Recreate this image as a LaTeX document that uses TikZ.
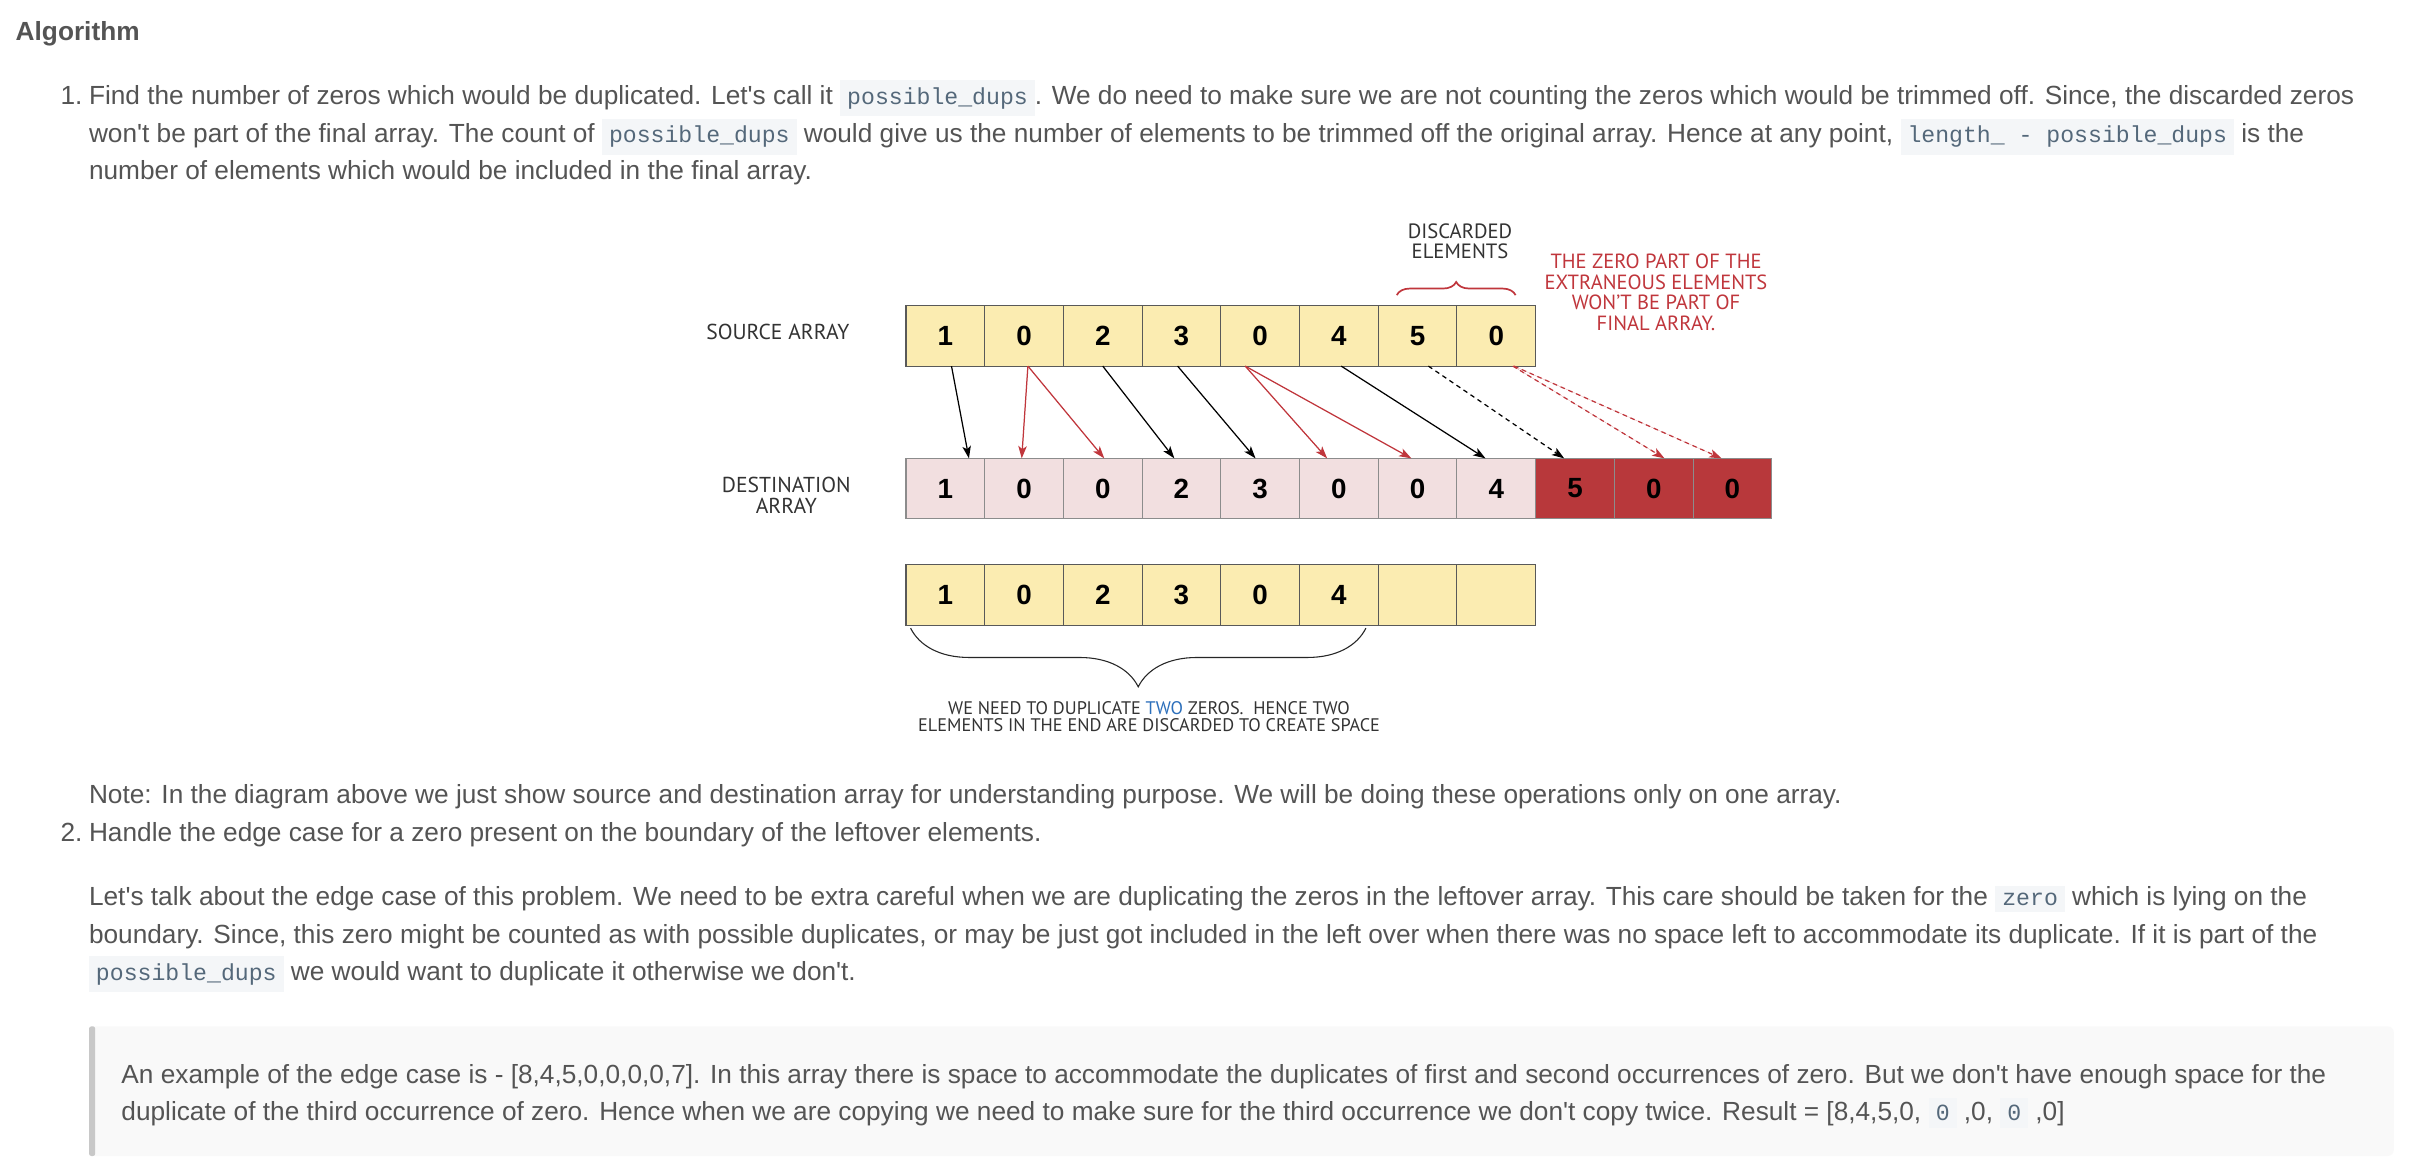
\documentclass[tikz,border=0pt]{standalone}
\usepackage{fontspec}
\setmainfont{Liberation Sans}
\setmonofont{Liberation Mono}
\newfontfamily\handfont{PT Sans}
\usepackage{tikz}
\usetikzlibrary{positioning}
\usetikzlibrary{arrows.meta}
\usetikzlibrary{calc}
\usetikzlibrary{decorations.pathreplacing}
\usepackage{xcolor}

\definecolor{bodytext}{RGB}{84,84,84}
\definecolor{codebg}{RGB}{244,246,248}
\definecolor{codetext}{RGB}{84,104,122}
\definecolor{cellyellow}{RGB}{251,236,177}
\definecolor{cellpink}{RGB}{242,223,224}
\definecolor{celldark}{RGB}{184,56,59}
\definecolor{noteRed}{RGB}{192,54,60}
\definecolor{twoBlue}{RGB}{44,111,187}
\definecolor{quotebg}{RGB}{249,249,249}
\definecolor{quotebar}{RGB}{200,200,200}

\newcommand{\code}[1]{{\setlength{\fboxsep}{4.5pt}\colorbox{codebg}{\fontsize{15}{18}\ttfamily\color{codetext}#1}}}
\newcommand{\ap}{\textquotesingle}

\begin{document}
\begin{tikzpicture}[
		x=1pt, y=-1pt,
		% Style definitions - one unit is one pixel of the page
		bodyline/.style={anchor=base west, inner sep=0pt, font=\fontsize{17}{24.5}\selectfont, text=bodytext},
		heading/.style={bodyline, font=\fontsize{17}{24.5}\selectfont\bfseries},
		srccell/.style={draw=black!65, fill=cellyellow, minimum width=51pt, minimum height=39pt, inner sep=0pt, outer sep=0pt, font=\fontsize{18}{20}\selectfont\bfseries, line width=0.7pt},
		dstcell/.style={srccell, draw=black!45, fill=cellpink},
		extracell/.style={srccell, draw=black!45, fill=celldark},
		handlabel/.style={font=\handfont\fontsize{14}{13.5}\selectfont, align=center, text=black!80},
		arrow/.style={-{Stealth[length=8pt, width=5.5pt, inset=2pt]}, line width=0.8pt},
		duparrow/.style={arrow, draw=noteRed, fill=noteRed},
		lostarrow/.style={arrow, dash pattern=on 3pt off 2.5pt},
		% Cells sit edge to edge
		node distance=0pt,
		]
		\path[use as bounding box, fill=white] (0,0) rectangle (1568,758);

		% === Text above the diagram ===
		\node[heading] (title) at (10,26) {Algorithm};
		\node[bodyline] (num1) at (39,67.5) {1.};
		\node[bodyline] (line1a) at (57.5,67.5) {Find the number of zeros which would be duplicated. Let\ap s call it \code{possible\_dups}. We do need to make sure we are not counting the zeros which would be trimmed off. Since, the discarded zeros};
		\node[bodyline] (line1b) at (57.5,92.5) {won\ap t be part of the final array. The count of \code{possible\_dups} would give us the number of elements to be trimmed off the original array. Hence at any point, \code{length\_ - possible\_dups} is the};
		\node[bodyline] (line1c) at (57.5,116.5) {number of elements which would be included in the final array.};

		% === ROW 1: Source array ===
		\node[srccell] (s1) at (612.5,217.7) {1};
		\node[srccell, right=of s1] (s2) {0};
		\node[srccell, right=of s2] (s3) {2};
		\node[srccell, right=of s3] (s4) {3};
		\node[srccell, right=of s4] (s5) {0};
		\node[srccell, right=of s5] (s6) {4};
		\node[srccell, right=of s6] (s7) {5};
		\node[srccell, right=of s7] (s8) {0};

		% === ROW 2: Destination array ===
		\node[dstcell] (d1) at (612.5,316.5) {1};
		\node[dstcell, right=of d1] (d2) {0};
		\node[dstcell, right=of d2] (d3) {0};
		\node[dstcell, right=of d3] (d4) {2};
		\node[dstcell, right=of d4] (d5) {3};
		\node[dstcell, right=of d5] (d6) {0};
		\node[dstcell, right=of d6] (d7) {0};
		\node[dstcell, right=of d7] (d8) {4};
		\node[extracell, right=of d8] (d9) {5};
		\node[extracell, right=of d9] (d10) {0};
		\node[extracell, right=of d10] (d11) {0};

		% === ROW 3: Leftover array ===
		\node[srccell] (t1) at (612.5,385.5) {1};
		\node[srccell, right=of t1] (t2) {0};
		\node[srccell, right=of t2] (t3) {2};
		\node[srccell, right=of t3] (t4) {3};
		\node[srccell, right=of t4] (t5) {0};
		\node[srccell, right=of t5] (t6) {4};
		\node[srccell, right=of t6] (t7) {};
		\node[srccell, right=of t7] (t8) {};

		% === Labels ===
		\node[handlabel] (src-label) at (504,215) {SOURCE ARRAY};
		\node[handlabel] (dst-label) at (509.5,320.8) {DESTINATION\\ARRAY};
		\node[handlabel, font=\handfont\fontsize{13.4}{13.5}\selectfont] (discard-label) at (946,156.3) {DISCARDED\\ELEMENTS};
		\node[handlabel, text=noteRed, font=\handfont\fontsize{13.3}{13.3}\selectfont] (zero-note) at (1073,189.5) {THE ZERO PART OF THE\\EXTRANEOUS ELEMENTS\\WON’T BE PART OF\\FINAL ARRAY.};
		\node[handlabel, font=\handfont\fontsize{11.8}{11}\selectfont] (dup-note) at (744.5,464.5) {WE NEED TO DUPLICATE \textcolor{twoBlue}{TWO} ZEROS.\ \ HENCE TWO\\ELEMENTS IN THE END ARE DISCARDED TO CREATE SPACE};

		% === Braces ===
		\draw[noteRed, line width=1.1pt, decorate, decoration={brace, amplitude=8.5pt}] ([xshift=12pt, yshift=7pt]s7.north west) -- ([xshift=-13pt, yshift=7pt]s8.north east);
		\draw[black!85, line width=0.7pt, decorate, decoration={brace, amplitude=38pt}] ([xshift=-8pt, yshift=-2pt]t6.south east) -- ([xshift=3pt, yshift=-2pt]t1.south west);

		% === Connections: source to destination ===
		\draw[arrow] ([xshift=4pt]s1.south) -- ([xshift=15.3pt]d1.north);
		\draw[duparrow] ([xshift=2.5pt]s2.south) -- ([xshift=-1.5pt]d2.north);
		\draw[duparrow] ([xshift=2.5pt]s2.south) -- ([xshift=1pt]d3.north);
		\draw[arrow] (s3.south) -- ([xshift=-4.6pt]d4.north);
		\draw[arrow] ([xshift=-2.5pt]s4.south) -- ([xshift=-3pt]d5.north);
		\draw[duparrow] ([xshift=-9.7pt]s5.south) -- ([xshift=-7.6pt]d6.north);
		\draw[duparrow] ([xshift=-9.7pt]s5.south) -- ([xshift=-4pt]d7.north);
		\draw[arrow] ([xshift=1.5pt]s6.south) -- ([xshift=-7pt]d8.north);
		\draw[lostarrow] ([xshift=7pt]s7.south) -- ([xshift=-7pt]d9.north);
		\draw[lostarrow, duparrow] ([xshift=10.7pt]s8.south) -- ([xshift=7pt]d10.north);
		\draw[lostarrow, duparrow] ([xshift=11.5pt]s8.south) -- ([xshift=-7pt]d11.north);

		% === Text below the diagram ===
		\node[bodyline] (note) at (57.5,520.5) {Note: In the diagram above we just show source and destination array for understanding purpose. We will be doing these operations only on one array.};
		\node[bodyline] (num2) at (39,545.5) {2.};
		\node[bodyline] (line2a) at (57.5,545.5) {Handle the edge case for a zero present on the boundary of the leftover elements.};
		\node[bodyline] (para1) at (57.5,586.5) {Let\ap s talk about the edge case of this problem. We need to be extra careful when we are duplicating the zeros in the leftover array. This care should be taken for the \code{zero} which is lying on the};
		\node[bodyline] (para2) at (57.5,611.5) {boundary. Since, this zero might be counted as with possible duplicates, or may be just got included in the left over when there was no space left to accommodate its duplicate. If it is part of the};
		\node[bodyline] (para3) at (57.5,635) {\code{possible\_dups} we would want to duplicate it otherwise we don\ap t.};

		% === Quote block ===
		\fill[quotebg, rounded corners=4pt] (57.7,665) rectangle (1551,749);
		\fill[quotebar, rounded corners=1.5pt] (57.7,665) rectangle (61.7,749);
		\node[bodyline] (quote1) at (78.5,702) {An example of the edge case is - [8,4,5,0,0,0,0,7]. In this array there is space to accommodate the duplicates of first and second occurrences of zero. But we don\ap t have enough space for the};
		\node[bodyline] (quote2) at (78.5,726) {duplicate of the third occurrence of zero. Hence when we are copying we need to make sure for the third occurrence we don\ap t copy twice. Result = [8,4,5,0, \code{0} ,0, \code{0} ,0]};

	\end{tikzpicture}
\end{document}
